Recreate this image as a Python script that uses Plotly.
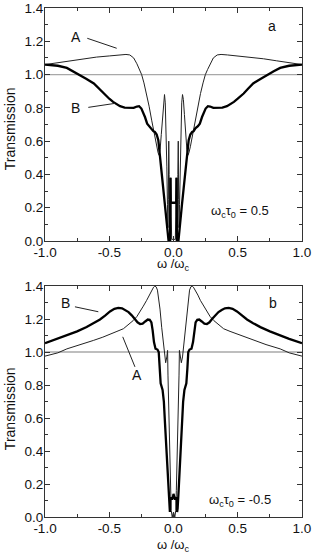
import plotly.graph_objects as go

# ---------------- data ----------------
ref_x = [-1.0, 1.0]
ref_y = [1.0, 1.0]

# panel a : curve A (thin)
a_A_x = [-1.0, -0.9, -0.8, -0.7, -0.6, -0.5, -0.42, -0.37, -0.34, -0.31, -0.285, -0.265, -0.248,
         -0.23, -0.21, -0.19, -0.17, -0.15, -0.131, -0.12, -0.112, -0.104, -0.095, -0.085, -0.077,
         -0.070, -0.064, -0.058, -0.052, -0.047, -0.043, -0.040, -0.037, -0.034, -0.031, -0.028,
         -0.024, -0.021, -0.018, -0.014, 0.0,
         0.014, 0.018, 0.021, 0.024, 0.028, 0.031, 0.034, 0.037, 0.040, 0.043, 0.047, 0.052, 0.058,
         0.064, 0.070, 0.077, 0.085, 0.095, 0.104, 0.112, 0.12, 0.131, 0.15, 0.17, 0.19, 0.21, 0.23,
         0.248, 0.265, 0.285, 0.31, 0.34, 0.37, 0.42, 0.5, 0.6, 0.7, 0.8, 0.9, 1.0]
a_A_y = [1.06, 1.072, 1.083, 1.095, 1.105, 1.112, 1.118, 1.121, 1.118, 1.10, 1.065, 1.03, 1.0,
         0.95, 0.886, 0.81, 0.726, 0.645, 0.566, 0.53, 0.515, 0.55, 0.64, 0.76, 0.85,
         0.88, 0.83, 0.68, 0.45, 0.22, 0.08, 0.25, 0.60, 0.40, 0.10, 0.02,
         0.20, 0.38, 0.15, 0.01, 0.01,
         0.01, 0.15, 0.38, 0.20, 0.02, 0.10, 0.40, 0.60, 0.25, 0.08, 0.22, 0.45, 0.68,
         0.83, 0.88, 0.85, 0.76, 0.64, 0.55, 0.515, 0.53, 0.566, 0.645, 0.726, 0.81, 0.886, 0.95,
         1.0, 1.03, 1.065, 1.10, 1.118, 1.121, 1.118, 1.112, 1.105, 1.095, 1.083, 1.072, 1.06]

# panel a : curve B (thick)
a_B_x = [-1.0, -0.9, -0.83, -0.78, -0.73, -0.68, -0.62, -0.58, -0.546, -0.5, -0.47, -0.44, -0.416,
         -0.38, -0.34, -0.31, -0.285, -0.268, -0.25, -0.235, -0.222, -0.205, -0.19, -0.17, -0.157,
         -0.145, -0.131, -0.118, -0.105, -0.092, -0.079, -0.066, -0.053, -0.045, -0.039, -0.026,
         -0.024, -0.021, 0.0,
         0.021, 0.024, 0.026, 0.039, 0.045, 0.053, 0.066, 0.079, 0.092, 0.105, 0.118, 0.131, 0.145,
         0.157, 0.17, 0.19, 0.205, 0.222, 0.235, 0.25, 0.268, 0.285, 0.31, 0.34, 0.38, 0.416, 0.44,
         0.47, 0.5, 0.546, 0.58, 0.62, 0.68, 0.73, 0.78, 0.83, 0.9, 1.0]
a_B_y = [1.06, 1.053, 1.04, 1.02, 1.0, 0.975, 0.947, 0.915, 0.886, 0.855, 0.836, 0.82, 0.81,
         0.802, 0.80, 0.80, 0.808, 0.81, 0.796, 0.77, 0.745, 0.705, 0.69, 0.677, 0.66,
         0.655, 0.64, 0.605, 0.51, 0.415, 0.316, 0.22, 0.12, 0.06, 0.005, 0.005,
         0.38, 0.23, 0.23,
         0.23, 0.38, 0.005, 0.005, 0.06, 0.12, 0.22, 0.316, 0.415, 0.51, 0.605, 0.64, 0.655,
         0.66, 0.677, 0.69, 0.705, 0.745, 0.77, 0.796, 0.81, 0.808, 0.80, 0.80, 0.802, 0.81, 0.82,
         0.836, 0.855, 0.886, 0.915, 0.947, 0.975, 1.0, 1.02, 1.04, 1.053, 1.06]

# panel b : curve A (thin)
b_A_x = [-1.0, -0.9, -0.83, -0.72, -0.624, -0.55, -0.494, -0.44, -0.39, -0.35, -0.313, -0.285,
         -0.261, -0.235, -0.209, -0.19, -0.17, -0.155, -0.145, -0.135, -0.125, -0.115, -0.105,
         -0.092, -0.08, -0.07, -0.061, -0.052, -0.046, -0.043, -0.038, -0.033, -0.028, -0.022,
         -0.018, -0.01, 0.0,
         0.01, 0.018, 0.022, 0.028, 0.033, 0.038, 0.043, 0.046, 0.052, 0.061, 0.07, 0.08, 0.092,
         0.105, 0.115, 0.125, 0.135, 0.145, 0.155, 0.17, 0.19, 0.209, 0.235, 0.261, 0.285, 0.313,
         0.35, 0.39, 0.44, 0.494, 0.55, 0.624, 0.72, 0.83, 0.9, 1.0]
b_A_y = [0.975, 0.995, 1.019, 1.045, 1.07, 1.09, 1.11, 1.125, 1.141, 1.165, 1.191, 1.215,
         1.242, 1.278, 1.313, 1.345, 1.374, 1.393, 1.40, 1.395, 1.375, 1.33, 1.26,
         1.15, 1.05, 0.97, 0.935, 0.97, 1.01, 0.86, 0.68, 0.50, 0.33, 0.16,
         0.04, 0.0, 0.03,
         0.0, 0.04, 0.16, 0.33, 0.50, 0.68, 0.86, 1.01, 0.97, 0.935, 0.97, 1.05, 1.15,
         1.26, 1.33, 1.375, 1.395, 1.40, 1.393, 1.374, 1.345, 1.313, 1.278, 1.242, 1.215, 1.191,
         1.165, 1.141, 1.125, 1.11, 1.09, 1.07, 1.045, 1.019, 0.995, 0.975]

# panel b : curve B (thick)
b_B_x = [-1.0, -0.9, -0.83, -0.75, -0.676, -0.62, -0.572, -0.53, -0.494, -0.46, -0.43, -0.40,
         -0.375, -0.35, -0.325, -0.30, -0.28, -0.26, -0.24, -0.22, -0.20, -0.185, -0.172, -0.162,
         -0.152, -0.14, -0.125, -0.115, -0.108, -0.10, -0.085, -0.075, -0.066, -0.053, -0.04,
         -0.032, -0.028, -0.024, -0.018, -0.01, -0.004, 0.0,
         0.004, 0.01, 0.018, 0.024, 0.028, 0.032, 0.04, 0.053, 0.066, 0.075, 0.085, 0.10, 0.108,
         0.115, 0.125, 0.14, 0.152, 0.162, 0.172, 0.185, 0.20, 0.22, 0.24, 0.26, 0.28, 0.30, 0.325,
         0.35, 0.375, 0.40, 0.43, 0.46, 0.494, 0.53, 0.572, 0.62, 0.676, 0.75, 0.83, 0.9, 1.0]
b_B_y = [1.053, 1.08, 1.10, 1.125, 1.151, 1.175, 1.197, 1.222, 1.246, 1.262, 1.267, 1.265,
         1.255, 1.242, 1.222, 1.20, 1.18, 1.17, 1.172, 1.185, 1.197, 1.195, 1.18, 1.13,
         1.06, 1.02, 1.015, 1.0, 0.90, 0.81, 0.77, 0.70, 0.566, 0.364, 0.162,
         0.05, 0.03, 0.12, 0.11, 0.11, 0.12, 0.14,
         0.12, 0.11, 0.11, 0.12, 0.03, 0.05, 0.162, 0.364, 0.566, 0.70, 0.77, 0.81, 0.90,
         1.0, 1.015, 1.02, 1.06, 1.13, 1.18, 1.195, 1.197, 1.185, 1.172, 1.17, 1.18, 1.20, 1.222,
         1.242, 1.255, 1.265, 1.267, 1.262, 1.246, 1.222, 1.197, 1.175, 1.151, 1.125, 1.10, 1.08, 1.053]

x_ticks = [-1.0, -0.5, 0.0, 0.5, 1.0]
x_tick_text = ["-1.0", "-0.5", "0.0", "0.5", "1.0"]
y_ticks = [0.0, 0.2, 0.4, 0.6, 0.8, 1.0, 1.2, 1.4]
y_tick_text = ["0.0", "0.2", "0.4", "0.6", "0.8", "1.0", "1.2", "1.4"]

# ---------------- figure ----------------
FONT = "Liberation Sans, Arial, Helvetica, sans-serif"
THIN = dict(color="#222222", width=1.0)
THICK = dict(color="#000000", width=2.3)
REF = dict(color="#a8a8a8", width=1.4)

fig = go.Figure()
for xa, ya in (("x", "y"), ("x2", "y2")):
    fig.add_trace(go.Scatter(x=ref_x, y=ref_y, mode="lines", line=REF, xaxis=xa, yaxis=ya,
                             hoverinfo="skip", showlegend=False))
fig.add_trace(go.Scatter(x=a_A_x, y=a_A_y, mode="lines", line=THIN, xaxis="x", yaxis="y", showlegend=False))
fig.add_trace(go.Scatter(x=a_B_x, y=a_B_y, mode="lines", line=THICK, xaxis="x", yaxis="y", showlegend=False))
fig.add_trace(go.Scatter(x=b_A_x, y=b_A_y, mode="lines", line=THIN, xaxis="x2", yaxis="y2", showlegend=False))
fig.add_trace(go.Scatter(x=b_B_x, y=b_B_y, mode="lines", line=THICK, xaxis="x2", yaxis="y2", showlegend=False))

axis_common = dict(showline=True, linecolor="#333333", linewidth=1, mirror="ticks",
                   ticks="inside", ticklen=5, tickwidth=1, tickcolor="#333333",
                   showgrid=False, zeroline=False, automargin=False,
                   ticklabeloverflow="allow",
                   tickfont=dict(family=FONT, size=13.5, color="#111111"))
xax = dict(axis_common, range=[-1.0, 1.0], tickvals=x_ticks, ticktext=x_tick_text,
           ticklabelstandoff=-1,
           minor=dict(ticks="inside", dtick=0.25, ticklen=3, tickcolor="#333333", showgrid=False))
yax = dict(axis_common, range=[0.0, 1.4], tickvals=y_ticks, ticktext=y_tick_text,
           ticklabelstandoff=-2,
           minor=dict(ticks="inside", dtick=0.1, ticklen=3, tickcolor="#333333", showgrid=False))

fig.update_layout(
    width=313, height=560,
    margin=dict(l=45, r=11, t=8, b=43),
    paper_bgcolor="white", plot_bgcolor="white",
    xaxis=dict(xax, domain=[0, 1], anchor="y"),
    yaxis=dict(yax, domain=[0.5422, 1.0], anchor="x"),
    xaxis2=dict(xax, domain=[0, 1], anchor="y2"),
    yaxis2=dict(yax, domain=[0.0, 0.4538], anchor="x2"),
)

ann = []
def txt(x, y, s, xref, yref, size=14, **kw):
    ann.append(dict(x=x, y=y, text=s, xref=xref, yref=yref, showarrow=False,
                    xanchor="center", yanchor="middle",
                    font=dict(family=FONT, size=size, color="#111111"), **kw))

# panel a labels
txt(-0.759, 1.226, "A", "x", "y")
txt(-0.759, 0.798, "B", "x", "y")
txt(0.764, 1.292, "a", "x", "y")
txt(0.518, 0.18, "ω<sub>c</sub>τ<sub>0</sub> = 0.5", "x", "y", size=13)
# panel b labels
txt(-0.839, 1.295, "B", "x2", "y2")
txt(-0.286, 0.86, "A", "x2", "y2")
txt(0.777, 1.30, "b", "x2", "y2")
txt(0.52, 0.101, "ω<sub>c</sub>τ<sub>0</sub> = -0.5", "x2", "y2", size=13)
# axis titles
txt(0.5, 0.496, "ω /ω<sub>c</sub>", "paper", "paper", size=13)
txt(0.5, -0.056, "ω /ω<sub>c</sub>", "paper", "paper", size=13)
txt(-0.136, 0.762, "Transmission", "paper", "paper", size=14, textangle=-90)
txt(-0.136, 0.212, "Transmission", "paper", "paper", size=14, textangle=-90)
fig.update_layout(annotations=ann)

# pointer lines
line_style = dict(color="#222222", width=1)
fig.add_shape(type="line", x0=-0.671, y0=1.218, x1=-0.442, y1=1.158, xref="x", yref="y", line=line_style)
fig.add_shape(type="line", x0=-0.663, y0=0.803, x1=-0.455, y1=0.827, xref="x", yref="y", line=line_style)
fig.add_shape(type="line", x0=-0.767, y0=1.274, x1=-0.585, y1=1.244, xref="x2", yref="y2", line=line_style)
fig.add_shape(type="line", x0=-0.300, y0=0.910, x1=-0.395, y1=1.092, xref="x2", yref="y2", line=line_style)

# remove the default page margin so the figure sits at the window's top-left corner
fig.write_html("out.html", config={"displayModeBar": False},
               post_script="document.body.style.margin='0';")
